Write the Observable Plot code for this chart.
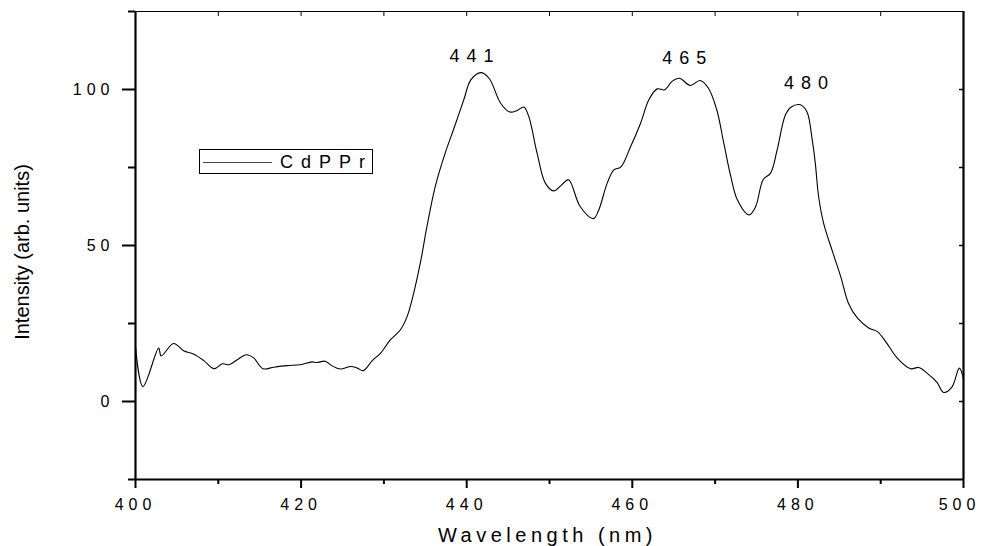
<!DOCTYPE html>
<html>
<head>
<meta charset="utf-8">
<script src="https://cdn.jsdelivr.net/npm/d3@7"></script>
<script src="https://cdn.jsdelivr.net/npm/@observablehq/plot@0.6"></script>
<style>
  html, body { margin: 0; padding: 0; background: #fff; }
  #wrap { position: relative; width: 981px; height: 546px; font-family: "Liberation Sans", Arial, sans-serif; }
  #legend { position: absolute; left: 199px; top: 149px; width: 174px; height: 25px; border: 1px solid #000; box-sizing: border-box; background: #fff; }
  #legend .swatch { position: absolute; left: 3px; top: 12px; width: 69px; height: 0; border-top: 1px solid #444; }
  #legend .name { position: absolute; left: 80px; top: 3px; font-size: 18px; line-height: 18px; letter-spacing: 8px; color: #000; white-space: nowrap; }
</style>
</head>
<body>
<div id="wrap"></div>
<script>
// ---- data ----
const wavelength = [
  400.0, 400.9, 402.8, 403.1, 404.6, 405.8, 407.0, 408.25, 409.5, 410.5,
  411.3, 412.3, 413.4, 414.3, 415.4, 416.7, 418.3, 419.9, 421.3, 421.9,
  422.9, 423.7, 424.7, 426.0, 426.8, 427.5, 428.6, 429.6, 430.8, 432.0,
  432.8, 433.4, 434.4, 435.2, 436.2, 437.4, 438.4, 439.65, 440.5, 441.7,
  442.7, 444.1, 445.2, 446.1, 446.9, 447.5, 448.5, 449.5, 450.5, 451.5,
  452.3, 453.7, 455.3, 455.95, 456.97, 457.8, 458.6, 459.8, 461.0, 462.0,
  463.0, 463.9, 464.8, 465.7, 467.0, 468.2, 469.2, 470.2, 471.05, 471.9,
  472.7, 474.1, 474.9, 475.8, 476.7, 477.5, 478.5, 479.2, 480.3, 481.1,
  481.7, 482.1, 482.5, 483.1, 484.2, 485.2, 486.1, 487.2, 488.6, 489.6,
  490.6, 492.0, 493.6, 494.6, 495.6, 496.8, 497.6, 498.6, 499.5, 500.0
];
const intensity = [
  17.5, 4.8, 17.1, 14.6, 18.6, 16.3, 15.2, 13.1, 10.5, 12.1,
  11.8, 13.4, 15.0, 13.9, 10.5, 11.0, 11.5, 11.8, 12.7, 12.5,
  12.9, 11.5, 10.4, 11.2, 10.7, 9.9, 13.1, 15.5, 19.8, 23.0,
  27.2, 32.6, 44.4, 56.1, 68.9, 79.6, 87.1, 96.7, 103.1, 105.4,
  103.6, 95.6, 92.8, 93.3, 94.4, 91.3, 79.6, 70.0, 67.5, 69.5,
  71.1, 62.5, 58.6, 61.4, 70.0, 74.3, 75.1, 81.7, 89.2, 96.7,
  100.2, 99.9, 102.6, 103.6, 101.3, 102.9, 100.4, 93.5, 82.8, 72.1,
  64.6, 59.8, 62.5, 71.1, 73.2, 80.7, 91.9, 94.4, 95.1, 92.8,
  84.4, 76.4, 65.7, 57.2, 47.9, 39.8, 31.5, 26.7, 23.5, 22.4,
  19.2, 13.9, 10.5, 10.9, 9.1, 6.1, 2.9, 4.6, 10.7, 7.2
];
const xMajorTicks = [400, 420, 440, 460, 480, 500];
const xMinorTicks = [410, 430, 450, 470, 490];
const yMajorTicks = [0, 50, 100];
const yMinorTicks = [-25, 25, 75, 125];
const peakLabels = ["441", "465", "480"];
const peakLabelX = [441, 466.7, 481.4];
const peakLabelY = [108.7, 108.3, 100.2];
const seriesName = "CdPPr";
const xTitle = "Wavelength (nm)";
const yTitle = "Intensity (arb. units)";

// ---- build tables ----
const data = wavelength.map((w, i) => ({w, v: intensity[i]}));
const peaks = peakLabels.map((t, i) => ({t, x: peakLabelX[i], y: peakLabelY[i]}));
const blank = () => "";
const xInner = xMajorTicks.slice(0, -1);
const xLast = xMajorTicks.slice(-1);

const plot = Plot.plot({
  width: 981,
  height: 546,
  marginLeft: 135,
  marginRight: 18,
  marginTop: 11,
  marginBottom: 67,
  x: {domain: [400, 500]},
  y: {domain: [-25, 125]},
  style: {fontFamily: "'Liberation Sans', Arial, sans-serif", color: "#000", background: "#fff", overflow: "visible"},
  marks: [
    Plot.axisX({anchor: "bottom", ticks: xInner, tickSize: 9, tickPadding: 10, strokeWidth: 2, fontSize: 16, label: null, tickFormat: d => String(d)}),
    Plot.axisX({anchor: "bottom", ticks: xLast, tickSize: 9, strokeWidth: 2, tickFormat: blank, label: null}),
    Plot.axisX({anchor: "bottom", ticks: xLast, tickSize: 0, tickPadding: 19, strokeWidth: 0, fontSize: 16, dx: -4, label: null, tickFormat: d => String(d)}),
    Plot.axisX({anchor: "bottom", ticks: xMinorTicks, tickSize: 5, strokeWidth: 2, tickFormat: blank, label: null}),
    Plot.axisX({anchor: "top", ticks: [...xMajorTicks, ...xMinorTicks], tickSize: -4, strokeWidth: 1, tickFormat: blank, label: null}),
    Plot.axisY({anchor: "left", ticks: yMajorTicks, tickSize: 13, tickPadding: 8, strokeWidth: 2, fontSize: 16, label: null, tickFormat: d => String(d)}),
    Plot.axisY({anchor: "left", ticks: yMinorTicks, tickSize: 7, strokeWidth: 2, tickFormat: blank, label: null}),
    Plot.axisY({anchor: "right", ticks: [0, 25, 50, 75, 100], tickSize: -5, strokeWidth: 1.5, tickFormat: blank, label: null}),
    Plot.ruleX([400, 500], {strokeWidth: 2.2}),
    Plot.ruleY([-25], {strokeWidth: 2}),
    Plot.ruleY([125], {strokeWidth: 1.2}),
    Plot.line(data, {x: "w", y: "v", stroke: "#000", strokeWidth: 1.1, curve: "catmull-rom"}),
    Plot.text(peaks, {x: "x", y: "y", text: "t", fontSize: 18, lineAnchor: "bottom", textAnchor: "middle"}),
    Plot.text([xTitle], {frameAnchor: "bottom", dy: 62, dx: -2, fontSize: 20, lineAnchor: "bottom", textAnchor: "middle"}),
    Plot.text([yTitle], {frameAnchor: "left", rotate: -90, dx: -107, dy: 6.5, fontSize: 20, lineAnchor: "bottom", textAnchor: "middle"})
  ]
});

// letter-spaced labels, as in the reference
d3.select(plot).selectAll("text").each(function() {
  const parent = this.parentNode;
  const aria = parent && parent.getAttribute ? (parent.getAttribute("aria-label") || "") : "";
  const t = this.textContent;
  if (aria.includes("tick label")) this.style.letterSpacing = "5px";
  else if (t === xTitle) this.style.letterSpacing = "4.5px";
  else if (peakLabels.includes(t)) this.style.letterSpacing = "7px";
});

const wrap = document.getElementById("wrap");
wrap.appendChild(plot);

// legend
const legend = document.createElement("div");
legend.id = "legend";
const sw = document.createElement("div");
sw.className = "swatch";
const nm = document.createElement("div");
nm.className = "name";
nm.textContent = seriesName;
legend.appendChild(sw);
legend.appendChild(nm);
wrap.appendChild(legend);
</script>
</body>
</html>
